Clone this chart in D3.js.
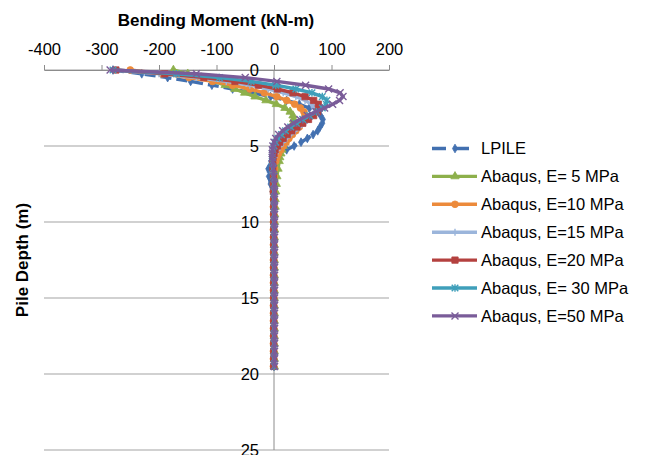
<!DOCTYPE html>
<html>
<head>
<meta charset="utf-8">
<script src="https://cdn.jsdelivr.net/npm/d3@7/dist/d3.min.js"></script>
<style>
  html, body { margin: 0; padding: 0; background: #fff; }
  svg { display: block; font-family: "Liberation Sans", Arial, sans-serif; }
</style>
</head>
<body>
<svg id="chart" width="648" height="455"></svg>
<script>
// depth below pile head (m)
const DEPTHS = [0, 0.25, 0.5, 0.75, 1, 1.25, 1.5, 1.75, 2, 2.25, 2.5, 2.75, 3, 3.25, 3.5, 3.75, 4, 4.25, 4.5, 4.75,
  5, 5.25, 5.5, 5.75, 6, 6.5, 7, 7.5, 8, 8.5, 9, 9.5, 10, 10.5, 11, 11.5, 12, 12.5, 13, 13.5,
  14, 14.5, 15, 15.5, 16, 16.5, 17, 17.5, 18, 18.5, 19, 19.5];

// bending moment (kN-m) for each series
const LPILE = [-280, -230, -185, -145, -108, -72, -38, -6, 22, 44, 61, 73, 81, 85, 84, 80, 76, 68, 58, 47,
  35, 22, 10, 1, -5, -10, -9, -6, -3, -2, -1, 0, 0, 0, 0, 0, 0, 0, 0, 0,
  0, 0, 0, 0, 0, 0, 0, 0, 0, 0, 0, 0];
const E5 = [-175, -150, -126, -104, -85, -68, -51, -33, -14, 4, 19, 28, 33, 34, 33, 31, 28, 25, 22, 19,
  16, 14, 12, 10, 9, 7, 5, 4, 3, 2, 2, 1, 1, 1, 0.5, 0.5, 0.5, 0.5, 0.5, 0.5,
  0.5, 0.5, 0.5, 0.5, 0.5, 0.5, 0.5, 0.5, 0.5, 0.5, 0.5, 0.5];
const E10 = [-250, -195, -148, -107, -72, -42, -17, 5, 22, 36, 46, 52, 54, 53, 49, 44, 38, 32, 26, 21,
  16, 12, 8, 5, 3, 1, 0, -1, -1, -1, -1, -1, -1, -1, -1, -1, -1, -1, -1, -1,
  -1, -1, -1, -1, -1, -1, -1, -1, -1, -1, -1, -1];
const E15 = [-280, -200, -135, -83, -42, -10, 16, 38, 54, 65, 70, 71, 68, 62, 54, 45, 37, 29, 22, 16,
  11, 7, 3, 1, -1, -2, -1, -1, 0, 0, 0, 0, 0, 0, 0, 0, 0, 0, 0, 0,
  0, 0, 0, 0, 0, 0, 0, 0, 0, 0, 0, 0];
const E20 = [-275, -190, -122, -68, -27, 6, 33, 54, 69, 77, 79, 76, 69, 60, 50, 40, 31, 23, 16, 10,
  6, 2, 0, -2, -2, -2, -1, -1, -1, -0.5, -0.5, -0.5, -0.5, -0.5, -0.5, -0.5, -0.5, -0.5, -0.5, -0.5,
  -0.5, -0.5, -0.5, -0.5, -0.5, -0.5, -0.5, -0.5, -0.5, -0.5, -0.5, -0.5];
const E30 = [-280, -170, -95, -40, 3, 38, 66, 84, 92, 91, 84, 74, 62, 50, 39, 29, 20, 13, 7, 3,
  0, -2, -3, -3, -3, -2, -1, 0, 0, 0, 0, 0, 0, 0, 0, 0, 0, 0, 0, 0,
  0, 0, 0, 0, 0, 0, 0, 0, 0, 0, 0, 0];
const E50 = [-285, -135, -50, 5, 55, 95, 115, 120, 114, 102, 88, 73, 58, 45, 34, 24, 15, 8, 3, 0,
  -2, -3, -3, -3, -2, -1, 0, 1, 1, 1, 1, 1, 1, 1, 1, 1, 1, 1, 1, 1,
  1, 1, 1, 1, 1, 1, 1, 1, 1, 1, 1, 1];

const SERIES_NAMES = ["LPILE", "Abaqus, E= 5 MPa", "Abaqus, E=10 MPa", "Abaqus, E=15 MPa",
  "Abaqus, E=20 MPa", "Abaqus, E= 30 MPa", "Abaqus, E=50 MPa"];
const SERIES_VALUES = [LPILE, E5, E10, E15, E20, E30, E50];
const X_TICKS = [-400, -300, -200, -100, 0, 100, 200];
const Y_TICKS = [0, 5, 10, 15, 20, 25];

const COLORS = ["#4270b0", "#8db04b", "#ec8a3b", "#9bb5db", "#b4413f", "#3f9fba", "#7a5c99"];
// marker shapes: [path, filled]
const MARKERS = [
  [d3.symbol(d3.symbolDiamond, 22)(), true],
  [d3.symbol(d3.symbolTriangle, 30)(), true],
  [d3.symbol(d3.symbolCircle, 36)(), true],
  ["M0,-3.5V3.5M-3,0H3", false],
  [d3.symbol(d3.symbolSquare, 40)(), true],
  ["M-3.3,-3.3L3.3,3.3M-3.3,3.3L3.3,-3.3M0,-3.8V3.8", false],
  ["M-3.5,-3.5L3.5,3.5M-3.5,3.5L3.5,-3.5", false]
];

let svg = d3.select("#chart");

let x = d3.scaleLinear().domain([-400, 200]).range([44, 389]),
    y = d3.scaleLinear().domain([0, 25]).range([70, 450]);

// horizontal gridlines
svg.append("g")
  .selectAll("line")
  .data(Y_TICKS)
  .enter().append("line")
  .attr("x1", x(-400)).attr("x2", x(200))
  .attr("y1", (d) => y(d)).attr("y2", (d) => y(d))
  .attr("stroke", "#a3a3a3")
  .attr("stroke-width", 1);

// vertical axis line at zero moment
svg.append("line")
  .attr("x1", x(0)).attr("x2", x(0))
  .attr("y1", y(0)).attr("y2", y(25))
  .attr("stroke", "#8c8c8c")
  .attr("stroke-width", 1);

// top x axis
let xAxis = svg.append("g")
  .attr("transform", "translate(0," + y(0) + ")")
  .call(d3.axisTop(x).tickValues(X_TICKS).tickFormat((d) => String(d))
    .tickSize(5).tickPadding(10).tickSizeOuter(0));
xAxis.select(".domain").attr("stroke", "#8c8c8c");
xAxis.selectAll(".tick line").attr("stroke", "#8c8c8c");
xAxis.selectAll(".tick text")
  .attr("font-size", 16.5)
  .attr("fill", "#000")
  .style("font-family", "'Liberation Sans', Arial, sans-serif");

// depth labels
svg.append("g")
  .selectAll("text")
  .data(Y_TICKS)
  .enter().append("text")
  .attr("x", 259)
  .attr("y", (d) => y(d))
  .attr("dy", "0.35em")
  .attr("text-anchor", "end")
  .attr("font-size", 16.5)
  .text((d) => d);

// curves
let line = d3.line()
  .x((d) => x(d[0]))
  .y((d) => y(d[1]));

SERIES_VALUES.forEach((vals, i) => {
  let pts = vals.map((v, j) => [v, DEPTHS[j]]);
  let g = svg.append("g").attr("class", "series");
  g.append("path")
    .datum(pts)
    .attr("d", line)
    .attr("fill", "none")
    .attr("stroke", COLORS[i])
    .attr("stroke-width", 3.4)
    .attr("stroke-dasharray", i === 0 ? "11,5" : null);
  g.selectAll("path.mark")
    .data(pts)
    .enter().append("path")
    .attr("class", "mark")
    .attr("transform", (d) => "translate(" + x(d[0]) + "," + y(d[1]) + ")")
    .attr("d", MARKERS[i][0])
    .attr("fill", MARKERS[i][1] ? COLORS[i] : "none")
    .attr("stroke", COLORS[i])
    .attr("stroke-width", MARKERS[i][1] ? 0.8 : 1.4);
});

// titles
svg.append("text")
  .attr("x", 216)
  .attr("y", 26)
  .attr("text-anchor", "middle")
  .attr("font-size", 17)
  .attr("font-weight", "bold")
  .text("Bending Moment (kN-m)");

svg.append("text")
  .attr("transform", "translate(28,260) rotate(-90)")
  .attr("text-anchor", "middle")
  .attr("font-size", 17)
  .attr("font-weight", "bold")
  .text("Pile Depth (m)");

// legend
let legendItem = svg.append("g")
  .selectAll("g")
  .data(SERIES_NAMES)
  .enter().append("g")
  .attr("transform", (d, i) => "translate(432," + (148.5 + i * 27.9) + ")");

legendItem.append("line")
  .attr("x1", 0).attr("x2", 45)
  .attr("stroke", (d, i) => COLORS[i])
  .attr("stroke-width", 3.4)
  .attr("stroke-dasharray", (d, i) => i === 0 ? "14,9" : null);

legendItem.append("path")
  .attr("transform", "translate(23,0)")
  .attr("d", (d, i) => MARKERS[i][0])
  .attr("fill", (d, i) => MARKERS[i][1] ? COLORS[i] : "none")
  .attr("stroke", (d, i) => COLORS[i])
  .attr("stroke-width", (d, i) => MARKERS[i][1] ? 0.8 : 1.4);

legendItem.append("text")
  .attr("x", 49)
  .attr("dy", "0.35em")
  .attr("font-size", 16.5)
  .text((d) => d);
</script>
</body>
</html>
